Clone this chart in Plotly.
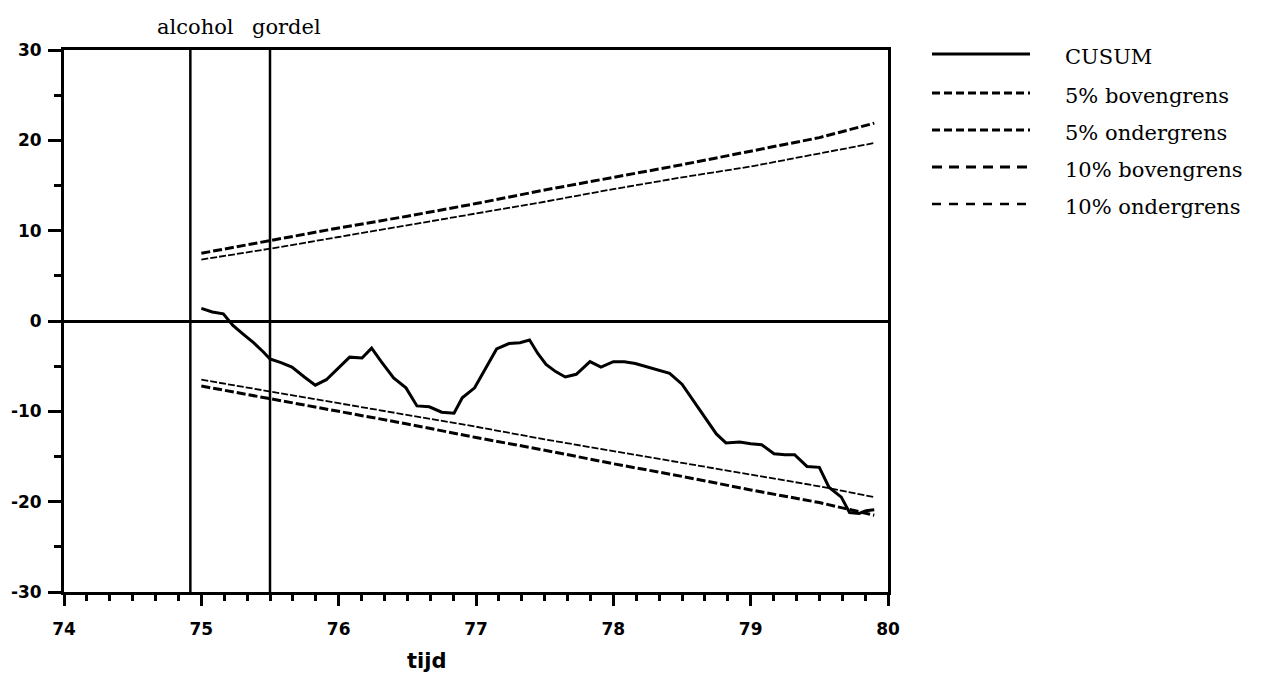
import plotly.graph_objects as go

# ---------------- data ----------------
cusum_t = [75.00, 75.08, 75.16, 75.23, 75.30, 75.38, 75.45, 75.50, 75.58, 75.66,
           75.75, 75.83, 75.91, 76.00, 76.08, 76.17, 76.24, 76.31, 76.40, 76.49,
           76.57, 76.66, 76.75, 76.84, 76.90, 76.99, 77.07, 77.15, 77.24, 77.32,
           77.39, 77.45, 77.51, 77.58, 77.65, 77.73, 77.83, 77.91, 78.00, 78.08,
           78.16, 78.25, 78.33, 78.41, 78.50, 78.58, 78.66, 78.75, 78.82, 78.92,
           79.00, 79.08, 79.17, 79.25, 79.32, 79.41, 79.50, 79.57, 79.66, 79.72,
           79.79, 79.84, 79.90]
cusum_v = [1.4, 1.0, 0.8, -0.5, -1.4, -2.4, -3.4, -4.2, -4.6, -5.1,
           -6.2, -7.1, -6.5, -5.2, -4.0, -4.1, -3.0, -4.5, -6.3, -7.4,
           -9.4, -9.5, -10.1, -10.2, -8.5, -7.4, -5.2, -3.1, -2.5, -2.4,
           -2.1, -3.6, -4.8, -5.6, -6.2, -5.9, -4.5, -5.1, -4.5, -4.5,
           -4.7, -5.1, -5.4, -5.8, -7.0, -8.8, -10.5, -12.5, -13.5, -13.4,
           -13.6, -13.7, -14.7, -14.8, -14.8, -16.1, -16.2, -18.4, -19.5, -21.2,
           -21.3, -21.0, -20.9]

bound_t = [75.0, 75.5, 76.0, 76.5, 77.0, 77.5, 78.0, 78.5, 79.0, 79.5, 79.9]
upper5 = [7.5, 8.9, 10.3, 11.6, 13.0, 14.5, 15.9, 17.3, 18.8, 20.3, 21.9]
lower5 = [-7.2, -8.6, -10.0, -11.4, -12.9, -14.3, -15.8, -17.2, -18.7, -20.1, -21.5]
upper10 = [6.8, 8.0, 9.3, 10.6, 11.9, 13.2, 14.6, 15.9, 17.1, 18.5, 19.7]
lower10 = [-6.5, -7.8, -9.1, -10.4, -11.7, -13.1, -14.4, -15.7, -17.0, -18.3, -19.5]

event_t = [74.92, 75.5]
event_labels = ["alcohol", "gordel"]

x_ticks = [74, 75, 76, 77, 78, 79, 80]
y_ticks = [-30, -20, -10, 0, 10, 20, 30]

legend_labels = ["CUSUM", "5% bovengrens", "5% ondergrens", "10% bovengrens", "10% ondergrens"]

# ---------------- layout geometry (target-window pixels) ----------------
OFF = 8  # default page margin of the html body
W, H = 1261 - OFF, 696 - OFF
L, R, T, B = 64 - OFF, 888 - OFF, 50 - OFF, 592 - OFF
pw, ph = R - L, B - T


def px(x):
    return (x - OFF - L) / pw


def py(y):
    return (B - (y - OFF)) / ph


SERIF = "DejaVu Serif"
SANS = "DejaVu Sans"

fig = go.Figure()

dash5 = "9px,3px"
dash10 = "7px,2px"

fig.add_trace(go.Scatter(x=bound_t, y=upper5, mode="lines",
                         line=dict(color="black", width=3, dash=dash5), showlegend=False))
fig.add_trace(go.Scatter(x=bound_t, y=lower5, mode="lines",
                         line=dict(color="black", width=3, dash=dash5), showlegend=False))
fig.add_trace(go.Scatter(x=bound_t, y=upper10, mode="lines",
                         line=dict(color="black", width=1.8, dash=dash10), showlegend=False))
fig.add_trace(go.Scatter(x=bound_t, y=lower10, mode="lines",
                         line=dict(color="black", width=1.8, dash=dash10), showlegend=False))
fig.add_trace(go.Scatter(x=cusum_t, y=cusum_v, mode="lines",
                         line=dict(color="black", width=3), showlegend=False))

# event lines
for t, lab, xs in zip(event_t, event_labels, [5, 16]):
    fig.add_shape(type="line", xref="x", yref="paper", x0=t, x1=t, y0=0, y1=1,
                  line=dict(color="black", width=2.5))
    fig.add_annotation(x=t, xref="x", y=py(27), yref="paper", text=lab,
                       showarrow=False, xshift=xs, yanchor="middle",
                       font=dict(family=SERIF, size=21, color="black"))

# manual legend
leg_y = [54, 93, 130, 167, 204]
leg_style = [dict(width=3, dash="solid"), dict(width=3, dash="8px,4px"),
             dict(width=3, dash="8px,4px"), dict(width=3, dash="10px,7px"),
             dict(width=2.5, dash="9px,8px")]
for lab, yy, st in zip(legend_labels, leg_y, leg_style):
    fig.add_shape(type="line", xref="paper", yref="paper",
                  x0=px(932), x1=px(1030), y0=py(yy), y1=py(yy),
                  line=dict(color="black", **st))
    fig.add_annotation(x=px(1063), xref="paper", y=py(yy + 3), yref="paper",
                       text=lab, showarrow=False, xanchor="left", yanchor="middle",
                       font=dict(family=SERIF, size=21, color="black"))

# axis title
fig.add_annotation(x=px(426), xref="paper", y=py(675), yref="paper", text="tijd",
                   showarrow=False, font=dict(family=SANS, size=21, color="black", weight="bold"))

fig.update_xaxes(range=[74, 80], tickvals=x_ticks, ticktext=[str(v) for v in x_ticks],
                 showline=True, linewidth=3, linecolor="black", mirror=True,
                 ticks="outside", ticklen=11, tickwidth=2.5, tickcolor="black",
                 minor=dict(dtick=1 / 6, ticks="outside", ticklen=6, tickwidth=2.5, tickcolor="black"),
                 showgrid=False, zeroline=False, ticklabelstandoff=9, automargin=False,
                 tickfont=dict(family=SANS, size=17, color="black", weight="bold"))
fig.update_yaxes(range=[-30, 30], tickvals=y_ticks, ticktext=[str(v) for v in y_ticks],
                 showline=True, linewidth=3, linecolor="black", mirror=True,
                 ticks="outside", ticklen=13, tickwidth=2.5, tickcolor="black",
                 minor=dict(dtick=5, ticks="outside", ticklen=7, tickwidth=2.5, tickcolor="black"),
                 showgrid=False, zeroline=True, zerolinewidth=3, zerolinecolor="black",
                 ticklabelstandoff=3, automargin=False,
                 tickfont=dict(family=SANS, size=17, color="black", weight="bold"))

fig.update_layout(width=W, height=H, margin=dict(l=L, r=W - R, t=T, b=H - B),
                  paper_bgcolor="white", plot_bgcolor="white", showlegend=False)

fig.write_html("out.html")
